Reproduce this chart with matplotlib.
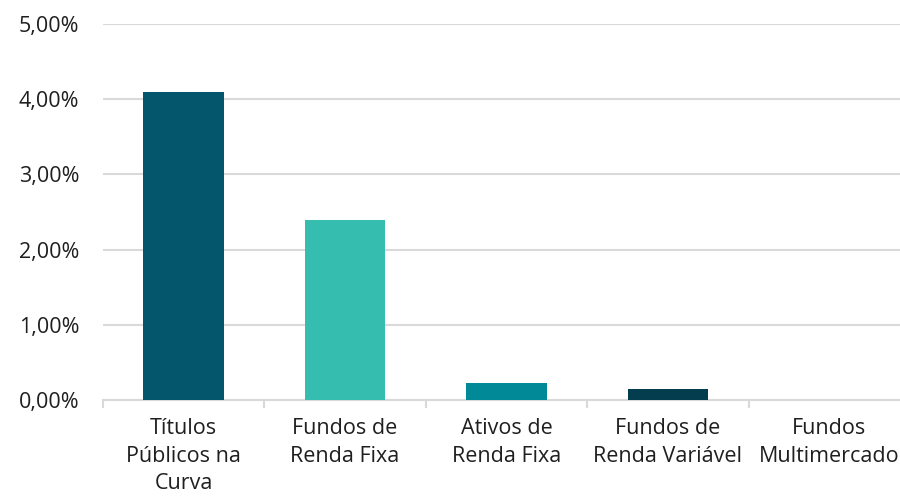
import matplotlib
matplotlib.use('Agg')
import matplotlib.pyplot as plt
from matplotlib.ticker import FuncFormatter

# Dados
categorias = ['Títulos\nPúblicos na\nCurva', 'Fundos de\nRenda Fixa', 'Ativos de\nRenda Fixa',
              'Fundos de\nRenda Variável', 'Fundos\nMultimercado']
valores = [4.10, 2.40, 0.23, 0.15, 0.0]
cores = ['#03566B', '#35BDB0', '#028997', '#043D4E', '#2F8FA0']

plt.rcParams['font.family'] = ['Open Sans', 'DejaVu Sans']

fig = plt.figure(figsize=(9, 4.97), dpi=100)
ax = fig.add_axes([103 / 900, 97 / 497, 807 / 900, 376 / 497])

x = range(len(categorias))
ax.bar(x, valores, width=0.5, color=cores, zorder=3)

ax.set_xlim(-0.5, 4.5)
ax.set_ylim(0, 5)
ax.set_yticks([0, 1, 2, 3, 4, 5])
ax.yaxis.set_major_formatter(FuncFormatter(lambda v, p: f'{v:.2f}%'.replace('.', ',')))

ax.grid(axis='y', color='#D9D9D9', linewidth=1.5, zorder=0)
for s in ['top', 'right', 'left']:
    ax.spines[s].set_visible(False)
ax.spines['bottom'].set_color('#D9D9D9')
ax.spines['bottom'].set_linewidth(1.5)

ax.set_xticks(list(x))
ax.set_xticklabels(categorias, fontsize=15.5, color='#1F1F1F', linespacing=1.42)
ax.tick_params(axis='x', which='major', length=0, pad=13)
ax.set_xticks([i - 0.5 for i in range(len(categorias) + 1)], minor=True)
ax.tick_params(axis='x', which='minor', length=6, width=1.5, color='#D9D9D9')
ax.tick_params(axis='y', length=0, pad=17, labelsize=15.5, labelcolor='#1F1F1F')

fig.savefig('out.png', dpi=100)
